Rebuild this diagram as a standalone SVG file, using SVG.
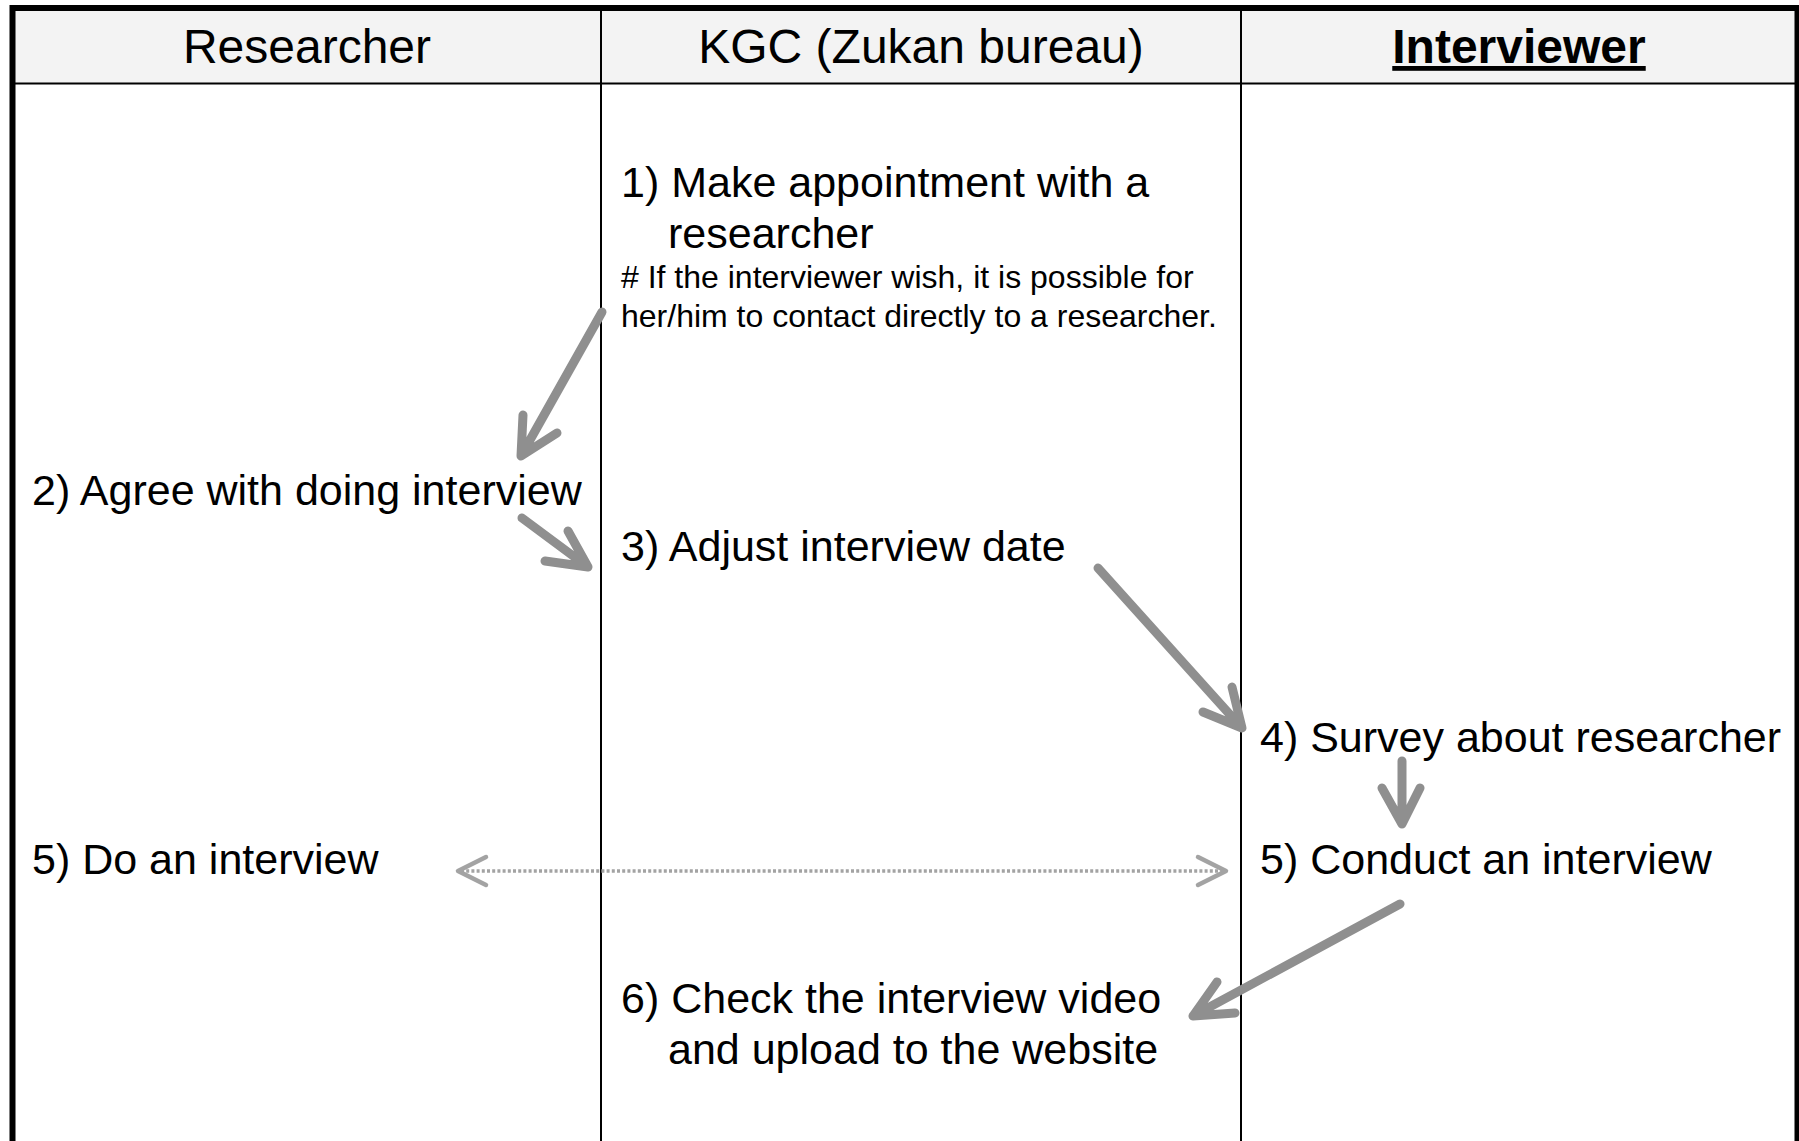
<svg xmlns="http://www.w3.org/2000/svg" width="1799" height="1141" viewBox="0 0 1799 1141">
<style>
.hd{font-family:"Liberation Sans",Arial,Helvetica,sans-serif;font-size:48px;fill:#000;text-anchor:middle}
.t{font-family:"Liberation Sans",Arial,Helvetica,sans-serif;font-size:43px;fill:#000}
.s{font-family:"Liberation Sans",Arial,Helvetica,sans-serif;font-size:32px;fill:#000}
.lane{stroke:#000;stroke-width:2;fill:none}
.arr{stroke:#8f8f8f;stroke-width:9;stroke-linecap:round;stroke-linejoin:round;fill:none}
.dot{stroke:#a3a3a3;stroke-width:3.5;stroke-dasharray:3 2.2;fill:none}
.dh{stroke:#a3a3a3;stroke-width:4.5;stroke-linecap:round;stroke-linejoin:round;fill:none}
</style>
<rect x="0" y="0" width="1799" height="1141" fill="#fff"/>
<g id="frame">
<rect x="12" y="8" width="1785" height="75" fill="#f3f3f3"/>
<line class="lane" x1="12" y1="83.5" x2="1797" y2="83.5" stroke-width="2.5"/>
<line class="lane" x1="601" y1="8" x2="601" y2="1141"/>
<line class="lane" x1="1241" y1="8" x2="1241" y2="1141"/>
<path d="M12.5 1141 V8 H1797.5 V1141" stroke="#000" stroke-width="6" fill="none"/>
</g>
<g id="lane-researcher"><text class="hd" x="307" y="63">Researcher</text></g>
<g id="lane-kgc"><text class="hd" x="921" y="63">KGC (Zukan bureau)</text></g>
<g id="lane-interviewer"><text class="hd" x="1519" y="63" font-weight="bold" text-decoration="underline">Interviewer</text></g>
<g id="step1">
<text class="t" x="621" y="197">1) Make appointment with a</text>
<text class="t" x="668" y="248">researcher</text>
<text class="s" x="621" y="288"># If the interviewer wish, it is possible for</text>
<text class="s" x="621" y="327">her/him to contact directly to a researcher.</text>
</g>
<g id="step2"><text class="t" x="32" y="505">2) Agree with doing interview</text></g>
<g id="step3"><text class="t" x="621" y="561">3) Adjust interview date</text></g>
<g id="step4"><text class="t" x="1260" y="752">4) Survey about researcher</text></g>
<g id="step5a"><text class="t" x="32" y="874">5) Do an interview</text></g>
<g id="step5b"><text class="t" x="1260" y="874">5) Conduct an interview</text></g>
<g id="step6">
<text class="t" x="621" y="1013">6) Check the interview video</text>
<text class="t" x="668" y="1064">and upload to the website</text>
</g>
<g id="connectors">
<path class="arr" d="M602 312 L521 456 M523 415 L521 456 L557 433"/>
<path class="arr" d="M522 518 L588 567 M545 561 L588 567 L568 531"/>
<path class="arr" d="M1098 568 L1242 728 M1232 687 L1242 728 L1203 712"/>
<path class="arr" d="M1402 761 L1402 824 M1382 788 L1402 824 L1420 788"/>
<path class="arr" d="M1400 904 L1193 1016 M1217 982 L1193 1016 L1235 1013"/>
<line class="dot" x1="461" y1="871" x2="1223" y2="871"/>
<path class="dh" d="M486 857 L458 871 L486 885"/>
<path class="dh" d="M1198 857 L1226 871 L1198 885"/>
</g>
</svg>
